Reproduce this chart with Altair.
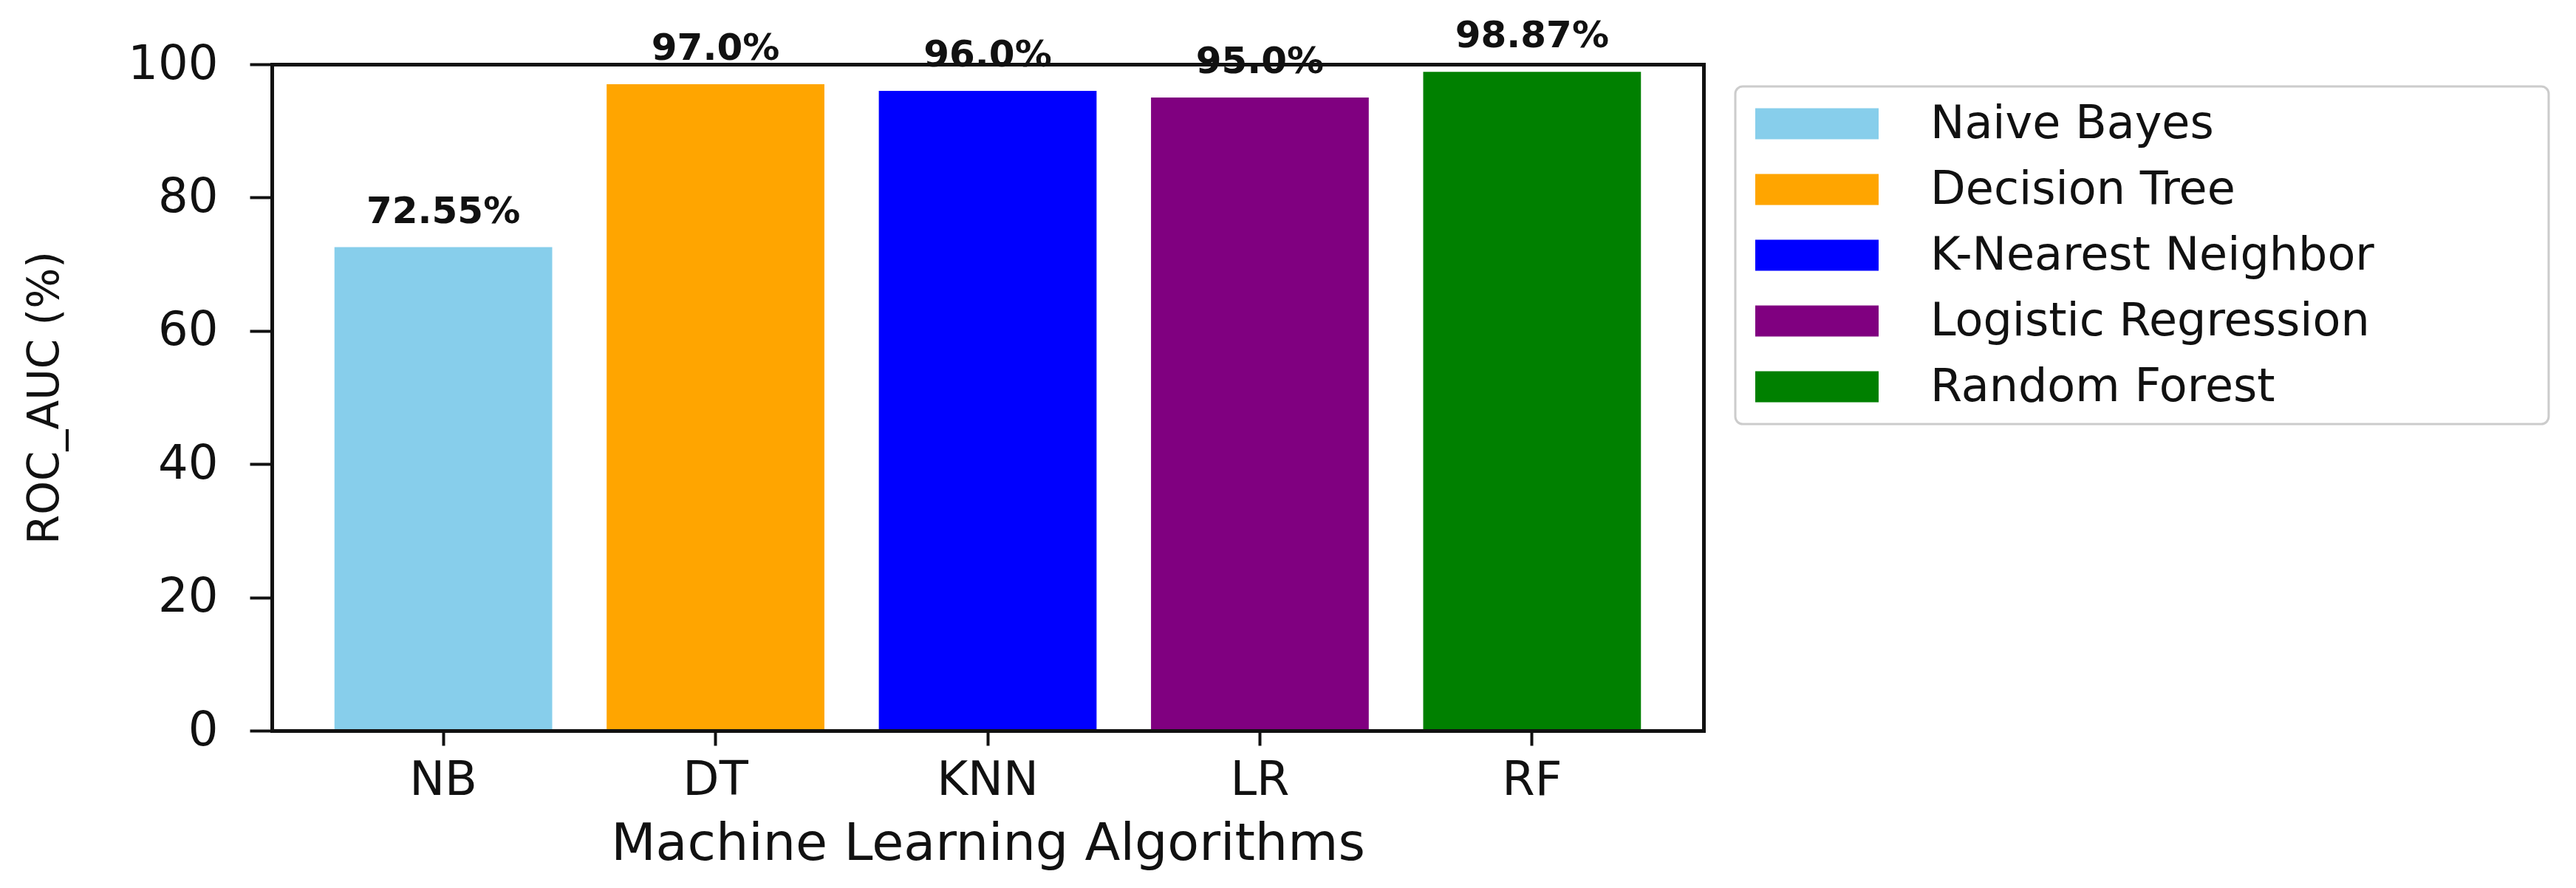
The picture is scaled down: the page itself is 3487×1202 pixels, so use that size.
import altair as alt
import pandas as pd

abbr = ["NB", "DT", "KNN", "LR", "RF"]
names = ["Naive Bayes", "Decision Tree", "K-Nearest Neighbor", "Logistic Regression", "Random Forest"]
values = [72.55, 97.0, 96.0, 95.0, 98.87]
labels = ["72.55%", "97.0%", "96.0%", "95.0%", "98.87%"]
colors = ["#87CEEB", "#FFA500", "#0000FF", "#800080", "#008000"]
y_ticks = [0, 20, 40, 60, 80, 100]

df = pd.DataFrame({"abbr": abbr, "name": names, "value": values, "label": labels})

FONT = "DejaVu Sans"
INK = "#111111"

bars = alt.Chart(df).mark_bar().encode(
    x=alt.X(
        "abbr:N",
        sort=abbr,
        scale=alt.Scale(paddingInner=0.2, paddingOuter=0.23),
        axis=alt.Axis(
            orient="bottom", labelAngle=0, tickSize=20, tickWidth=4, tickColor=INK,
            domainColor=INK, domainWidth=5, domainCap="square",
            labelFont=FONT, labelFontSize=64, labelColor=INK, labelPadding=66,
            labelBaseline="alphabetic",
            title="Machine Learning Algorithms", titleFont=FONT, titleFontSize=70,
            titleFontWeight="normal", titleColor=INK, titleY=174, titleBaseline="alphabetic",
            grid=False, zindex=1,
        ),
    ),
    y=alt.Y(
        "value:Q",
        scale=alt.Scale(domain=[0, 100], nice=False),
        axis=alt.Axis(
            orient="left", values=y_ticks, tickSize=30, tickWidth=4, tickColor=INK,
            domainColor=INK, domainWidth=5, domainCap="square",
            labelFont=FONT, labelFontSize=64, labelColor=INK, labelPadding=43,
            title="ROC_AUC (%)", titleFont=FONT, titleFontSize=58, titleFontWeight="normal",
            titleColor=INK, titleX=-307, titleBaseline="middle",
            grid=False, zindex=1,
        ),
    ),
    color=alt.Color(
        "name:N",
        sort=names,
        scale=alt.Scale(domain=names, range=colors),
        legend=alt.Legend(
            title=" ", titleOrient="right", titleFontSize=1, titlePadding=230,
            orient="none", legendX=1981, legendY=30, direction="vertical",
            symbolType="M-1,-0.2515L1,-0.2515L1,0.2515L-1,0.2515Z",
            symbolSize=27889, symbolStrokeWidth=0, symbolOpacity=1,
            clipHeight=89, rowPadding=0,
            labelFont=FONT, labelFontSize=62, labelColor=INK, labelLimit=2000,
            labelOffset=70, symbolOffset=21, padding=6,
            strokeColor="#cccccc", fillColor="white", cornerRadius=10,
        ),
    ),
)

text = alt.Chart(df).mark_text(
    font=FONT, fontWeight="bold", fontSize=50, dy=-33, baseline="alphabetic", color=INK
).encode(
    x=alt.X(
        "abbr:N", sort=abbr,
        axis=alt.Axis(orient="top", labels=False, ticks=False, title="", domainColor=INK,
                      domainWidth=5, domainCap="square", grid=False, zindex=1),
    ),
    y=alt.Y(
        "value:Q",
        axis=alt.Axis(orient="right", labels=False, ticks=False, title="", domainColor=INK,
                      domainWidth=5, domainCap="square", grid=False, zindex=1),
    ),
    text="label:N",
)

chart = (
    alt.layer(bars, text)
    .resolve_axis(x="independent", y="independent")
    .properties(
        width=1938,
        height=902,
        autosize=alt.AutoSizeParams(type="none"),
        padding={"left": 360, "top": 79, "right": 1150, "bottom": 190},
        background="white",
    )
    .configure_view(stroke=None)
    .configure_legend(strokeWidth=3)
)

chart.save("out.html", embed_options={"renderer": "svg", "actions": False})
